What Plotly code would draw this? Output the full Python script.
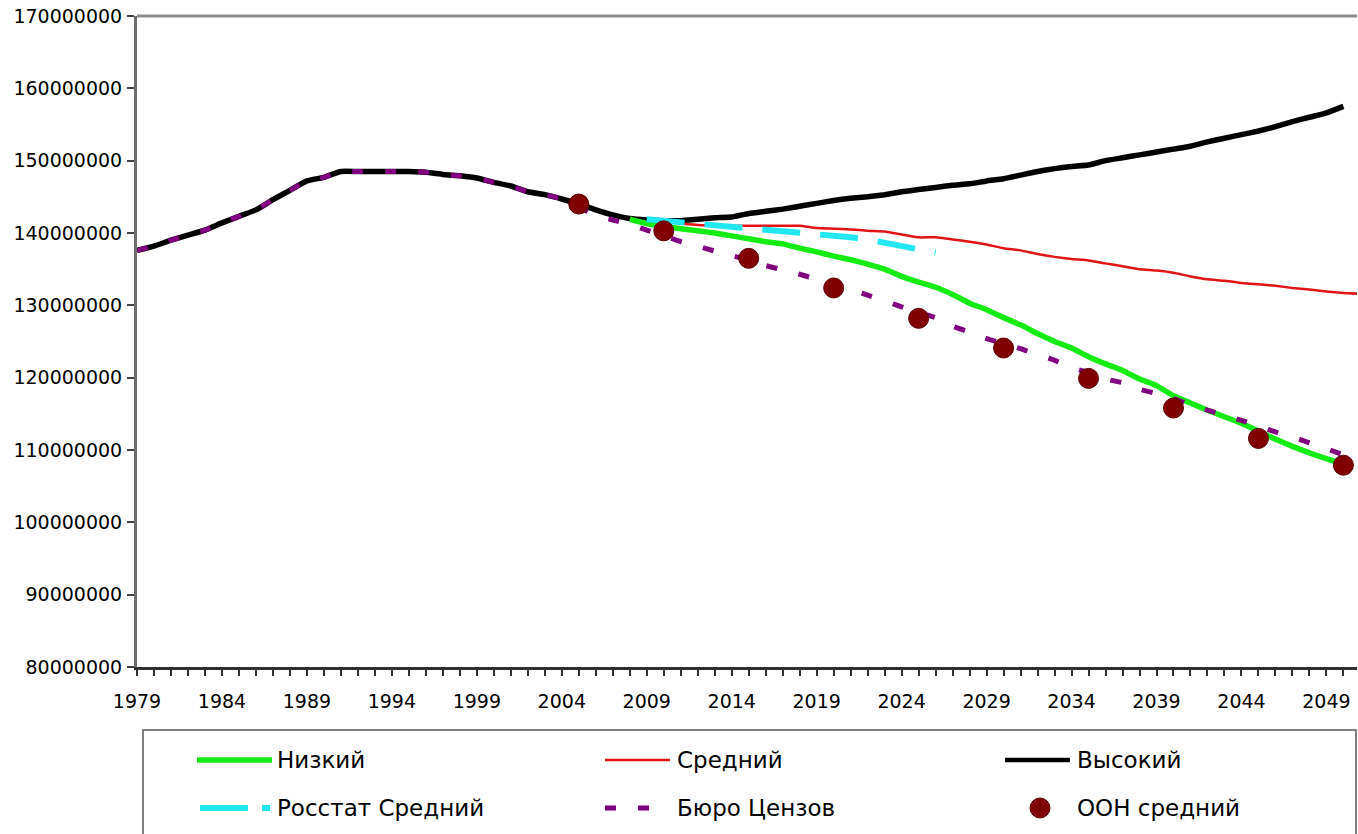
import plotly.graph_objects as go

# ---- data (population, millions) ----
hist_years = list(range(1979, 2009))
hist_pop = [137.6, 138.2, 139.0, 139.7, 140.4, 141.4, 142.3, 143.2, 144.6, 145.9,
            147.2, 147.7, 148.5, 148.5, 148.5, 148.5, 148.5, 148.4, 148.1, 147.9,
            147.6, 147.0, 146.5, 145.7, 145.3, 144.7, 144.0, 143.2, 142.5, 142.0]

high_years = list(range(2009, 2051))
high_pop = [141.8, 141.7, 141.7, 141.9, 142.1, 142.2, 142.7, 143.0, 143.3, 143.7,
            144.1, 144.5, 144.8, 145.0, 145.3, 145.7, 146.0, 146.3, 146.6, 146.8,
            147.2, 147.5, 148.0, 148.5, 148.9, 149.2, 149.4, 150.0, 150.4, 150.8,
            151.2, 151.6, 152.0, 152.6, 153.1, 153.6, 154.1, 154.7, 155.4, 156.0,
            156.6, 157.5]

low_years = list(range(2008, 2051))
low_pop = [141.9, 141.3, 140.9, 140.6, 140.3, 140.0, 139.6, 139.2, 138.8, 138.5,
           137.9, 137.4, 136.8, 136.3, 135.7, 135.0, 134.0, 133.2, 132.5, 131.5,
           130.3, 129.4, 128.3, 127.3, 126.1, 125.0, 124.1, 122.9, 121.9, 121.0,
           119.8, 118.9, 117.5, 116.5, 115.5, 114.6, 113.7, 112.6, 111.5, 110.5,
           109.6, 108.8, 108.0]

mid_years = list(range(2010, 2052))
mid_pop = [141.7, 141.3, 141.1, 141.0, 141.0, 141.0, 141.0, 141.0, 141.0, 140.7,
           140.6, 140.5, 140.3, 140.2, 139.8, 139.4, 139.4, 139.1, 138.8, 138.4,
           137.9, 137.6, 137.1, 136.7, 136.4, 136.2, 135.8, 135.4, 135.0, 134.8,
           134.5, 134.0, 133.6, 133.4, 133.1, 132.9, 132.7, 132.4, 132.2, 131.9,
           131.7, 131.6]

rosstat_years = list(range(2009, 2027))
rosstat_pop = [141.9, 141.7, 141.5, 141.3, 141.1, 141.0, 140.8, 140.5, 140.3, 140.1,
               139.9, 139.6, 139.4, 139.1, 138.7, 138.3, 137.9, 137.3]

census_years = list(range(2004, 2051))
census_pop = [144.6, 143.6, 142.4, 141.8, 141.2, 140.4, 139.6, 138.8, 138.2, 137.5,
              136.9, 136.2, 135.5, 134.9, 134.3, 133.6, 133.0, 132.2, 131.4, 130.6,
              129.8, 129.0, 128.3, 127.1, 126.3, 125.4, 124.7, 124.0, 123.2, 122.4,
              121.4, 120.7, 119.8, 119.3, 118.4, 117.8, 117.1, 116.3, 115.5, 114.8,
              114.1, 113.3, 112.5, 111.8, 111.0, 110.2, 109.3]

un_years = [2005, 2010, 2015, 2020, 2025, 2030, 2035, 2040, 2045, 2050]
un_pop = [144.0, 140.3, 136.5, 132.4, 128.2, 124.1, 119.9, 115.8, 111.6, 107.9]

x_tick_years = list(range(1979, 2050, 5))
y_ticks = list(range(80_000_000, 170_000_001, 10_000_000))

names = ["Низкий", "Средний", "Высокий", "Росстат Средний", "Бюро Цензов", "ООН средний"]

M = 1_000_000
def scale(vals):
    return [v * M for v in vals]

C_LOW = "#14ec14"
C_MID = "#e01414"
C_HIGH = "#000000"
C_ROS = "#22e6f0"
C_CEN = "#800080"
C_UN = "#800000"

FONT = "DejaVu Sans, Liberation Sans, Arial"

fig = go.Figure()

# High scenario carries the historical series
fig.add_trace(go.Scatter(x=hist_years + high_years, y=scale(hist_pop + high_pop),
                         mode="lines", name=names[2],
                         line=dict(color=C_HIGH, width=5.5, shape="spline", smoothing=0.4)))
fig.add_trace(go.Scatter(x=low_years, y=scale(low_pop), mode="lines", name=names[0],
                         line=dict(color=C_LOW, width=5.5, shape="spline", smoothing=0.4)))
fig.add_trace(go.Scatter(x=mid_years, y=scale(mid_pop), mode="lines", name=names[1],
                         line=dict(color=C_MID, width=2.5, shape="spline", smoothing=0.4)))
fig.add_trace(go.Scatter(x=rosstat_years, y=scale(rosstat_pop), mode="lines", name=names[3],
                         line=dict(color=C_ROS, width=6, dash="38px,20px")))
fig.add_trace(go.Scatter(x=hist_years[:-4] + census_years,
                         y=scale(hist_pop[:-4] + census_pop), mode="lines", name=names[4],
                         line=dict(color=C_CEN, width=5, dash="11px,22px",
                                   shape="spline", smoothing=0.4)))
fig.add_trace(go.Scatter(x=un_years, y=scale(un_pop), mode="markers", name=names[5],
                         marker=dict(color=C_UN, size=20,
                                     line=dict(color="#5a0000", width=1))))

# ---- plot geometry (pixels) ----
W, H = 1358, 834
L, R, T, B = 137, 1, 16, 167
PW = W - L - R
PH = H - T - B

def px(x):
    return (x - L) / PW

def py(y):
    return (H - B - y) / PH

shapes = []
annotations = []

# top border of plot area
shapes.append(dict(type="line", xref="paper", yref="paper", x0=0, x1=1, y0=1, y1=1,
                   line=dict(color="#8c8c8c", width=3)))

# legend box
shapes.append(dict(type="rect", xref="paper", yref="paper",
                   x0=px(143), x1=px(1356), y0=py(840), y1=py(730),
                   line=dict(color="#555555", width=1.5), fillcolor="white", layer="below"))

legend_items = [
    (names[0], 760, 197, 272, dict(color=C_LOW, width=5.5), None),
    (names[1], 760, 605, 670, dict(color=C_MID, width=2.5), None),
    (names[2], 760, 1005, 1070, dict(color=C_HIGH, width=4.5), None),
    (names[3], 808, 200, 270, dict(color=C_ROS, width=6, dash="48px,14px"), None),
    (names[4], 808, 605, 650, dict(color=C_CEN, width=5, dash="11px,22px"), None),
    (names[5], 808, None, None, None, (1040, 10)),
]
text_x = {197: 275, 605: 675, 1005: 1075, 200: 275}
for label, yy, x0, x1, ln, dot in legend_items:
    if ln is not None:
        shapes.append(dict(type="line", xref="paper", yref="paper",
                           x0=px(x0), x1=px(x1), y0=py(yy), y1=py(yy), line=ln))
        tx = text_x.get(x0, 675)
    else:
        cx, r = dot
        shapes.append(dict(type="circle", xref="paper", yref="paper",
                           x0=px(cx - r), x1=px(cx + r), y0=py(yy + r), y1=py(yy - r),
                           fillcolor=C_UN, line=dict(color="#5a0000", width=1)))
        tx = 1075
    annotations.append(dict(text=label, xref="paper", yref="paper", x=px(tx), y=py(yy),
                            xanchor="left", yanchor="middle", showarrow=False,
                            font=dict(family=FONT, size=23, color="black")))

fig.update_layout(
    width=W, height=H, autosize=False,
    margin=dict(l=L, r=R, t=T, b=B, pad=0),
    paper_bgcolor="white", plot_bgcolor="white",
    showlegend=False,
    font=dict(family=FONT, size=19, color="black"),
    shapes=shapes, annotations=annotations,
)

fig.update_xaxes(range=[1979, 2050.8], tickvals=x_tick_years,
                 ticktext=[str(y) for y in x_tick_years],
                 showgrid=False, zeroline=False,
                 showline=True, linecolor="#303030", linewidth=2.5,
                 ticks="outside", ticklen=6, tickwidth=1.5, tickcolor="#303030",
                 minor=dict(dtick=1, tick0=1979, ticks="outside", ticklen=6,
                            tickwidth=1.5, tickcolor="#303030", showgrid=False),
                 tickfont=dict(size=19), ticklabelstandoff=9)
fig.update_yaxes(range=[80_000_000, 170_000_000], tickvals=y_ticks,
                 ticktext=[str(v) for v in y_ticks],
                 showgrid=False, zeroline=False,
                 showline=True, linecolor="#6e6e6e", linewidth=3,
                 ticks="outside", ticklen=7, tickwidth=1.5, tickcolor="#404040",
                 tickfont=dict(size=19), ticklabelstandoff=1)

fig.write_html("out.html")
